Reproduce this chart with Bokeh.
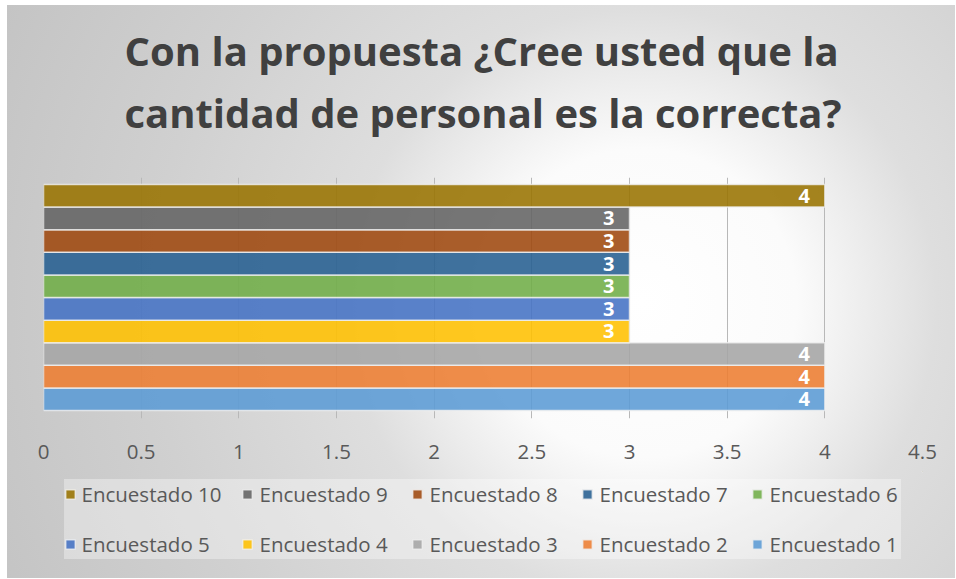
from bokeh.plotting import figure
from bokeh.layouts import column
from bokeh.models import (Legend, LegendItem, Title, ColumnDataSource,
                          FixedTicker, NumeralTickFormatter)
from bokeh.core.properties import value
from bokeh.embed import file_html
from bokeh.resources import INLINE

# ---- data ----
respondents = ["Encuestado 1", "Encuestado 2", "Encuestado 3", "Encuestado 4",
               "Encuestado 5", "Encuestado 6", "Encuestado 7", "Encuestado 8",
               "Encuestado 9", "Encuestado 10"]
scores = [4, 4, 4, 3, 3, 3, 3, 3, 3, 4]
colors = ["#5B9BD5", "#ED7D31", "#A5A5A5", "#FFC000", "#4472C4",
          "#70AD47", "#255E91", "#9E480E", "#636363", "#997300"]
x_ticks = [0, 0.5, 1, 1.5, 2, 2.5, 3, 3.5, 4, 4.5]
title_lines = ["Con la propuesta ¿Cree usted que la",
               "cantidad de personal es la correcta?"]

FONT = "Open Sans"
W = 948
positions = list(range(1, len(respondents) + 1))


def clear(fig):
    fig.border_fill_color = None
    fig.background_fill_color = None
    fig.outline_line_color = None


# ---- title figure ----
p0 = figure(width=W, height=172, output_backend="svg", toolbar_location=None,
            x_axis_type=None, y_axis_type=None, x_range=(0, 1), y_range=(0, 1),
            title=None, min_border_left=20, min_border_right=0,
            min_border_top=0, min_border_bottom=0)
clear(p0)
p0.grid.visible = False
p0.add_layout(Title(text="\n".join(title_lines), align="center", vertical_align="bottom",
                    text_font=FONT, text_font_style="bold", text_font_size="40px",
                    text_color="#404040", text_line_height=1.13, standoff=32), "above")

# ---- main chart ----
p = figure(width=W, height=294, output_backend="svg", toolbar_location=None,
           x_range=(x_ticks[0], x_ticks[-1]), y_range=(0.15, 10.81),
           title=None, min_border_left=36, min_border_right=33,
           min_border_top=0, min_border_bottom=53)
clear(p)

for sc, pos, col in zip(scores, positions, colors):
    p.hbar(y=[pos], left=0, right=[sc], height=1.0, fill_color=col,
           fill_alpha=0.88, line_color="#f0f0f0", line_width=1.5, line_alpha=0.8)

src = ColumnDataSource(dict(x=scores, y=positions, t=[str(s) for s in scores]))
p.text(x="x", y="y", text="t", source=src, text_font=value(FONT),
       text_font_style="bold", text_font_size="20px", text_color="white",
       text_align="right", text_baseline="middle", x_offset=-15)

p.yaxis.visible = False
xa = p.xaxis[0]
xa.ticker = FixedTicker(ticks=x_ticks)
xa.formatter = NumeralTickFormatter(format="0.[0]")
xa.axis_line_color = None
xa.major_tick_line_color = None
xa.minor_tick_line_color = None
xa.major_label_text_font = FONT
xa.major_label_text_font_size = "20.5px"
xa.major_label_text_color = "#595959"
xa.major_label_standoff = 20

p.xgrid.ticker = FixedTicker(ticks=x_ticks)
p.xgrid.grid_line_color = "#b8b8b8"
p.xgrid.grid_line_width = 1
p.ygrid.visible = False

# ---- legend figure (its bars lie outside its visible range; only the legend shows) ----
p2 = figure(width=W, height=107, output_backend="svg", toolbar_location=None,
            x_axis_type=None, y_axis_type=None, x_range=(-2, -1), y_range=(-2, -1),
            title=None, min_border_left=12, min_border_right=0,
            min_border_top=0, min_border_bottom=0)
clear(p2)
p2.grid.visible = False
items = []
for name, sc, pos, col in zip(respondents, scores, positions, colors):
    r = p2.hbar(y=[pos], left=0, right=[sc], height=1.0, fill_color=col,
                fill_alpha=0.88, line_color="#f0f0f0", line_width=1.5, line_alpha=0.8)
    items.append(LegendItem(label=name, renderers=[r]))

legend = Legend(items=list(reversed(items)), orientation="horizontal", nrows=2,
                location="top_center", label_text_font=FONT, label_text_font_size="20.5px",
                label_text_color="#595959", glyph_width=12, glyph_height=12,
                label_standoff=6, label_width=132, label_height=30, spacing=20,
                padding=10, margin=8, border_line_color=None,
                background_fill_color="white", background_fill_alpha=0.35)
p2.add_layout(legend, "center")

layout = column(p0, p, p2, spacing=0,
                styles={"margin": "5px 0 0 7px",
                        "background": "radial-gradient(circle farthest-corner at 67% 52%, "
                                      "#ffffff 0%, #fbfbfb 22%, #dedede 42%, #d0d0d0 70%, #c4c4c4 100%)"})

open("out.html", "w").write(file_html(layout, INLINE))
